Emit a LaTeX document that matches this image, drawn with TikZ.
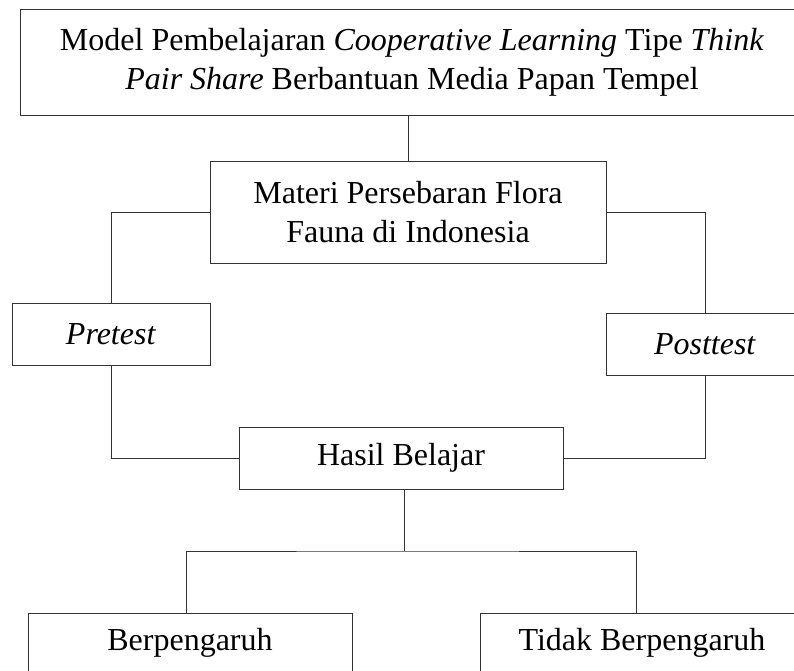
\documentclass[tikz,border=0pt]{standalone}
\usepackage{fontspec}
\setmainfont{Liberation Serif}
\begin{document}
\begin{tikzpicture}[x=1pt,y=1pt,
  box/.style={draw=black!80,line width=0.9pt,rectangle,inner sep=0pt,align=center,
    font=\fontsize{32}{39}\selectfont},
  conn/.style={draw=black!80,line width=0.9pt}]
\useasboundingbox (0,0) rectangle (794,-671);
\node[box,minimum width=784,minimum height=106] (top) at (412,-62)
  {Model Pembelajaran \textit{Cooperative Learning} Tipe \textit{Think}\\\textit{Pair Share} Berbantuan Media Papan Tempel};
\node[box,minimum width=396,minimum height=102] (materi) at (408,-212)
  {Materi Persebaran Flora\\Fauna di Indonesia};
\node[box,minimum width=198,minimum height=62] (pre) at (111,-334) {\textit{Pretest}};
\node[box,minimum width=198,minimum height=62] (post) at (705,-344) {\textit{Posttest}};
\node[box,minimum width=324,minimum height=62] (hasil) at (401,-458) {Hasil Belajar};
\node[box,minimum width=324,minimum height=60] (berp) at (190,-643) {Berpengaruh};
\node[box,minimum width=324,minimum height=60] (tidak) at (642,-643) {Tidak Berpengaruh};
\coordinate (split) at (404,-551);
\draw[conn] (materi.north) -- (materi.north |- top.south);
\draw[conn] (materi.west) -| (pre.north);
\draw[conn] (pre.south) |- (hasil.west);
\draw[conn] (materi.east) -| (post.north);
\draw[conn] (post.south) |- (hasil.east);
\draw[conn] (split |- hasil.south) -- (split);
\draw[conn] ([xshift=-4pt]berp.north) |- (split) -| ([xshift=-6pt]tidak.north);
\end{tikzpicture}
\end{document}
